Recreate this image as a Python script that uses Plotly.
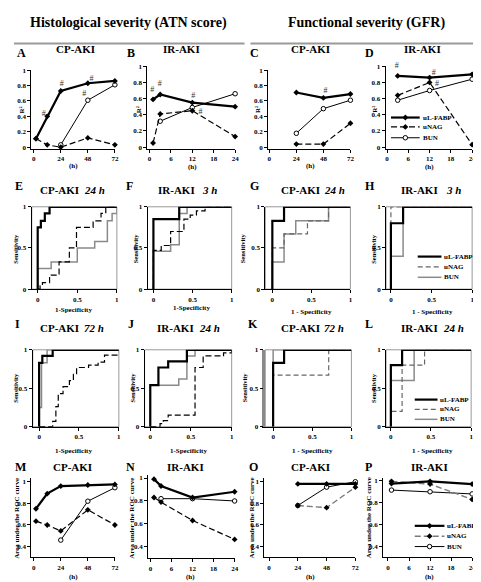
import plotly.graph_objects as go

W, H = 481, 582
SERIF = "Liberation Serif"

# ---------------- data ----------------
CP_T = [2, 12, 24, 48, 72]
IR_T = [1, 3, 12, 24]
CP_BUN_T = [24, 48, 72]
IR_BUN_T = [3, 12, 24]
CP_GFR_T = [24, 48, 72]
IR_GFR_T = [3, 12, 24]
P_T = [1, 12, 24]

A_FABP = [0.11, 0.40, 0.73, 0.83, 0.86]
A_NAG = [0.11, 0.03, 0.00, 0.12, 0.03]
A_BUN = [0.03, 0.61, 0.81]
B_FABP = [0.59, 0.65, 0.55, 0.50]
B_NAG = [0.05, 0.41, 0.45, 0.13]
B_BUN = [0.32, 0.49, 0.66]
C_FABP = [0.71, 0.64, 0.69]
C_NAG = [0.04, 0.04, 0.31]
C_BUN = [0.18, 0.50, 0.61]
D_FABP = [0.88, 0.86, 0.90]
D_NAG = [0.64, 0.80, 0.03]
D_BUN = [0.58, 0.70, 0.84]

M_FABP = [0.75, 0.89, 0.96, 0.97, 0.975]
M_NAG = [0.635, 0.60, 0.545, 0.74, 0.60]
M_BUN = [0.46, 0.82, 0.945]
N_FABP = [0.99, 0.93, 0.83, 0.88]
N_NAG = [0.83, 0.79, 0.63, 0.465]
N_BUN = [0.82, 0.82, 0.80]
O_FABP = [0.98, 0.98, 0.98]
O_NAG = [0.78, 0.76, 0.95]
O_BUN = [0.78, 0.95, 1.0]
P_FABP = [0.975, 0.995, 0.97]
P_NAG = [0.995, 0.97, 0.83]
P_BUN = [0.915, 0.90, 0.88]

# ROC curves (1-specificity, sensitivity)
E_FABP_FPR = [0, 0, 0.04, 0.09, 0.15, 1]
E_FABP_TPR = [0, 0.75, 0.83, 0.92, 1, 1]
E_NAG_FPR = [0, 0.03, 0.06, 0.15, 0.27, 0.40, 0.49, 0.70, 0.80, 0.86, 1]
E_NAG_TPR = [0, 0.04, 0.08, 0.17, 0.33, 0.5, 0.75, 0.83, 0.92, 1, 1]
E_BUN_FPR = [0, 0, 0.17, 0.5, 0.72, 0.88, 0.94, 1]
E_BUN_TPR = [0, 0.25, 0.33, 0.5, 0.58, 0.83, 0.92, 1]

F_FABP_FPR = [0, 0, 0.33, 1]
F_FABP_TPR = [0, 0.85, 1, 1]
F_NAG_FPR = [0, 0, 0.1, 0.22, 0.39, 0.47, 0.55, 0.66, 1]
F_NAG_TPR = [0, 0.47, 0.53, 0.7, 0.85, 0.9, 0.95, 1, 1]
F_BUN_FPR = [0, 0, 0.22, 0.33, 0.43, 1]
F_BUN_TPR = [0, 0.46, 0.54, 0.92, 1, 1]

G_FABP_FPR = [0, 0, 0.15, 1]
G_FABP_TPR = [0, 0.83, 1, 1]
G_NAG_FPR = [0, 0, 0.15, 0.45, 0.72, 1]
G_NAG_TPR = [0, 0.5, 0.67, 0.83, 1, 1]
G_BUN_FPR = [0, 0, 0.15, 0.3, 0.72, 1]
G_BUN_TPR = [0, 0.33, 0.67, 0.83, 1, 1]

H_FABP_FPR = [0, 0, 0.15, 1]
H_FABP_TPR = [0, 0.8, 1, 1]
H_NAG_FPR = [0, 0, 1]
H_NAG_TPR = [0, 1, 1]
H_BUN_FPR = [0, 0, 0.15, 1]
H_BUN_TPR = [0, 0.4, 1, 1]

I_FABP_FPR = [0, 0, 0.04, 0.17, 1]
I_FABP_TPR = [0, 0.83, 0.92, 1, 1]
I_NAG_FPR = [0, 0.17, 0.21, 0.24, 0.30, 0.38, 0.43, 0.47, 0.62, 0.74, 0.82, 1]
I_NAG_TPR = [0, 0.07, 0.26, 0.43, 0.52, 0.6, 0.68, 0.77, 0.8, 0.84, 0.93, 0.93]
I_BUN_FPR = [0, 0, 0.03, 0.1, 1]
I_BUN_TPR = [0, 0.25, 0.83, 1, 1]

J_FABP_FPR = [0, 0, 0.1, 0.22, 0.45, 1]
J_FABP_TPR = [0, 0.54, 0.77, 0.85, 1, 1]
J_NAG_FPR = [0, 0.12, 0.16, 0.22, 0.55, 0.65, 0.9, 1]
J_NAG_TPR = [0, 0.04, 0.08, 0.15, 0.77, 0.92, 0.96, 1]
J_BUN_FPR = [0, 0, 0.35, 0.45, 0.55, 1]
J_BUN_TPR = [0, 0.54, 0.62, 0.92, 1, 1]

K_FABP_FPR = [0, 0, 0.14, 1]
K_FABP_TPR = [0, 0.83, 1, 1]
K_NAG_FPR = [0, 0, 0.71, 1]
K_NAG_TPR = [0, 0.67, 1, 1]
K_BUN_FPR = [0, 0, 1]
K_BUN_TPR = [0, 1, 1]

L_FABP_FPR = [0, 0, 0.14, 1]
L_FABP_TPR = [0, 0.8, 1, 1]
L_NAG_FPR = [0, 0, 0.14, 0.42, 1]
L_NAG_TPR = [0, 0.2, 0.8, 1, 1]
L_BUN_FPR = [0, 0, 0.29, 1]
L_BUN_TPR = [0, 0.6, 1, 1]

# significance marks (#) placed next to points
A_HASH_X = [8.8, 24.9, 51.2, 72.3, 44.8, 75.5]
A_HASH_Y = [0.43, 0.82, 0.88, 0.97, 0.69, 0.73]
B_HASH_X = [0.8, 2.9, 12.3, 24.6, 25.5, 14.3]
B_HASH_Y = [0.70, 0.78, 0.63, 0.78, 0.55, 0.43]
C_HASH_X = [23.1, 50, 75.8]
C_HASH_Y = [1.05, 0.73, 0.97]
D_HASH_X = [2.7, 13.2, 14.1, 24.4, 25.5]
D_HASH_Y = [1.0, 0.92, 0.78, 1.0, 0.78]

SERIES = ["uL-FABP", "uNAG", "BUN"]
HOUR_TICKS_CP = [0, 24, 48, 72]
HOUR_TICKS_IR = [0, 6, 12, 18, 24]

# ---------------- layout helpers ----------------
def fx(x):
    return x / W

def fy(y):
    return 1 - y / H

layout = dict(width=W, height=H, autosize=False, margin=dict(l=0, r=0, t=0, b=0),
              paper_bgcolor="white", plot_bgcolor="rgba(0,0,0,0)", showlegend=False,
              font=dict(family=SERIF, size=7, color="black"))
annotations = []
shapes = []
fig = go.Figure()

TICKFONT = dict(family=SERIF, size=7, color="black", weight="bold")

# panel: name -> (idx, xpx, ypx, xrange, yrange, xticks, yticks, kind)
PANELS = {
    "A": (1, (22.7, 107), (59, 138.6), [-2, 72], [-0.02, 1], HOUR_TICKS_CP, [0, 0.2, 0.4, 0.6, 0.8, 1], "r2"),
    "B": (2, (139.8, 228.5), (55, 138.6), [-0.6, 24], [-0.02, 1], HOUR_TICKS_IR, [0, 0.2, 0.4, 0.6, 0.8, 1], "r2"),
    "C": (3, (261.9, 345), (59, 138.6), [-1, 72], [-0.02, 1], HOUR_TICKS_CP, [0, 0.2, 0.4, 0.6, 0.8, 1], "r2"),
    "D": (4, (380.6, 468), (55, 138.6), [-0.4, 24], [-0.02, 1], HOUR_TICKS_IR, [0, 0.2, 0.4, 0.6, 0.8, 1], "r2"),
    "E": (5, (23, 109), (197.5, 281), [-0.075, 1], [0, 1], [0, 0.5, 1], [0, 0.5, 1], "roc"),
    "F": (6, (140, 225), (197.5, 281), [-0.075, 1], [0, 1], [0, 0.5, 1], [0, 0.5, 1], "roc"),
    "G": (7, (259, 345), (197.5, 281), [-0.09, 1], [0, 1], [0, 0.5, 1], [0, 0.5, 1], "roc"),
    "H": (8, (381, 468), (197.5, 281), [-0.06, 1], [0, 1], [0, 0.5, 1], [0, 0.5, 1], "roc"),
    "I": (9, (24, 111), (342.5, 420.5), [-0.08, 1], [0, 1], [0, 0.5, 1], [0, 0.5, 1], "roc"),
    "J": (10, (137, 225), (342.5, 420.5), [-0.07, 1], [0, 1], [0, 0.5, 1], [0, 0.5, 1], "roc"),
    "K": (11, (259, 346), (342.5, 420.5), [-0.1, 1], [0, 1], [0, 0.5, 1], [0, 0.5, 1], "roc"),
    "L": (12, (381, 467), (342.5, 420.5), [-0.06, 1], [0, 1], [0, 0.5, 1], [0, 0.5, 1], "roc"),
    "M": (13, (22.7, 107), (473, 553), [-2, 72], [0.3, 1.03], HOUR_TICKS_CP, [0.4, 0.6, 0.8, 1], "auc"),
    "N": (14, (140.5, 228), (469, 554), [-0.7, 24], [0.3, 1.03], HOUR_TICKS_IR, [0.4, 0.6, 0.8, 1], "auc"),
    "O": (15, (258, 350), (473, 553), [-4, 72], [0.3, 1.03], HOUR_TICKS_CP, [0.4, 0.6, 0.8, 1], "auc"),
    "P": (16, (378, 468), (472, 553), [-1.4, 24], [0.3, 1.03], HOUR_TICKS_IR, [0.4, 0.6, 0.8, 1], "auc"),
}

def axnames(idx):
    s = "" if idx == 1 else str(idx)
    return "xaxis" + s, "yaxis" + s, "x" + s, "y" + s

for name, (idx, xp, yp, xr, yr, xt, yt, kind) in PANELS.items():
    xa, ya, _, _ = axnames(idx)
    common = dict(showgrid=False, zeroline=False, showline=True, linecolor="black", linewidth=1,
                  ticks="outside", ticklen=3, tickwidth=1, tickcolor="black", tickfont=TICKFONT,
                  fixedrange=True)
    xanchor = "y" if idx == 1 else "y" + str(idx)
    yanchor = "x" if idx == 1 else "x" + str(idx)
    layout[xa] = dict(common, domain=[fx(xp[0]), fx(xp[1])], range=xr, tickvals=xt, anchor=xanchor)
    layout[ya] = dict(common, domain=[fy(yp[1]), fy(yp[0])], range=yr, tickvals=yt, anchor=yanchor)
    if kind == "roc":
        shapes.append(dict(type="rect", xref="paper", yref="paper", x0=fx(xp[0]), x1=fx(xp[1]),
                           y0=fy(yp[1]), y1=fy(yp[0]), line=dict(color="#9a9a9a", width=1), layer="below"))
        if name == "K":
            layout[ya]["linecolor"] = "#8a8a8a"
            layout[ya]["linewidth"] = 2.5

def xy(name):
    idx = PANELS[name][0]
    _, _, xr, yr = axnames(idx)
    return dict(xaxis=xr, yaxis=yr)

FABP_LINE = dict(color="black", width=2.2)
NAG_LINE = dict(color="black", width=1.2, dash="6px,3px")
NAG_LINE_GRAY = dict(color="#7a7a7a", width=1.4, dash="6px,3px")
BUN_LINE = dict(color="black", width=1)
DIAMOND = dict(symbol="diamond", size=4.5, color="black")
OPEN = dict(symbol="circle", size=4.5, color="white", line=dict(color="black", width=1))

def time_series(name, t_fabp, fabp, t_nag, nag, t_bun, bun, nag_line=NAG_LINE):
    fig.add_trace(go.Scatter(x=t_bun, y=bun, mode="lines+markers", line=BUN_LINE, marker=OPEN,
                             cliponaxis=False, **xy(name)))
    fig.add_trace(go.Scatter(x=t_nag, y=nag, mode="lines+markers", line=nag_line, marker=DIAMOND,
                             cliponaxis=False, **xy(name)))
    fig.add_trace(go.Scatter(x=t_fabp, y=fabp, mode="lines+markers", line=FABP_LINE, marker=DIAMOND,
                             cliponaxis=False, **xy(name)))

time_series("A", CP_T, A_FABP, CP_T, A_NAG, CP_BUN_T, A_BUN)
time_series("B", IR_T, B_FABP, IR_T, B_NAG, IR_BUN_T, B_BUN)
time_series("C", CP_GFR_T, C_FABP, CP_GFR_T, C_NAG, CP_GFR_T, C_BUN)
time_series("D", IR_GFR_T, D_FABP, IR_GFR_T, D_NAG, IR_GFR_T, D_BUN)
time_series("M", CP_T, M_FABP, CP_T, M_NAG, CP_BUN_T, M_BUN)
time_series("N", IR_T, N_FABP, IR_T, N_NAG, IR_BUN_T, N_BUN)
time_series("O", CP_GFR_T, O_FABP, CP_GFR_T, O_NAG, CP_GFR_T, O_BUN, NAG_LINE_GRAY)
time_series("P", P_T, P_FABP, P_T, P_NAG, P_T, P_BUN, NAG_LINE_GRAY)

for name, hx, hy in [("A", A_HASH_X, A_HASH_Y), ("B", B_HASH_X, B_HASH_Y),
                     ("C", C_HASH_X, C_HASH_Y), ("D", D_HASH_X, D_HASH_Y)]:
    fig.add_trace(go.Scatter(x=hx, y=hy, mode="text", text=["#"] * len(hx), cliponaxis=False,
                             textfont=dict(family=SERIF, size=8, color="#333333"), **xy(name)))

ROC_FABP = dict(color="black", width=2.2)
ROC_NAG = dict(color="black", width=1.2, dash="6px,3px")
ROC_NAG_GRAY = dict(color="#666", width=1.2, dash="5px,3px")
ROC_BUN = dict(color="#8a8a8a", width=1.5)

def roc(name, fabp, nag, bun, nag_line=ROC_NAG):
    fig.add_trace(go.Scatter(x=bun[0], y=bun[1], mode="lines", line=dict(ROC_BUN, shape="hv"),
                             cliponaxis=False, **xy(name)))
    fig.add_trace(go.Scatter(x=nag[0], y=nag[1], mode="lines", line=dict(nag_line, shape="hv"),
                             cliponaxis=False, **xy(name)))
    fig.add_trace(go.Scatter(x=fabp[0], y=fabp[1], mode="lines", line=dict(ROC_FABP, shape="hv"),
                             cliponaxis=False, **xy(name)))

roc("E", (E_FABP_FPR, E_FABP_TPR), (E_NAG_FPR, E_NAG_TPR), (E_BUN_FPR, E_BUN_TPR))
roc("F", (F_FABP_FPR, F_FABP_TPR), (F_NAG_FPR, F_NAG_TPR), (F_BUN_FPR, F_BUN_TPR))
roc("G", (G_FABP_FPR, G_FABP_TPR), (G_NAG_FPR, G_NAG_TPR), (G_BUN_FPR, G_BUN_TPR), ROC_NAG_GRAY)
roc("H", (H_FABP_FPR, H_FABP_TPR), (H_NAG_FPR, H_NAG_TPR), (H_BUN_FPR, H_BUN_TPR), ROC_NAG_GRAY)
roc("I", (I_FABP_FPR, I_FABP_TPR), (I_NAG_FPR, I_NAG_TPR), (I_BUN_FPR, I_BUN_TPR))
roc("J", (J_FABP_FPR, J_FABP_TPR), (J_NAG_FPR, J_NAG_TPR), (J_BUN_FPR, J_BUN_TPR))
roc("K", (K_FABP_FPR, K_FABP_TPR), (K_NAG_FPR, K_NAG_TPR), (K_BUN_FPR, K_BUN_TPR), ROC_NAG_GRAY)
roc("L", (L_FABP_FPR, L_FABP_TPR), (L_NAG_FPR, L_NAG_TPR), (L_BUN_FPR, L_BUN_TPR), ROC_NAG_GRAY)

# ---------------- overlay axis in pixel units for legends ----------------
layout["xaxis17"] = dict(domain=[0, 1], range=[0, W], visible=False, fixedrange=True, anchor="y17")
layout["yaxis17"] = dict(domain=[0, 1], range=[H, 0], visible=False, fixedrange=True, anchor="x17")
OV = dict(xaxis="x17", yaxis="y17")

# ---------------- texts ----------------
def txt(s, x, y, size=7, angle=0, anchor="center", style="normal"):
    annotations.append(dict(text=s, x=fx(x), y=fy(y), xref="paper", borderpad=0,
                            yref="paper", xanchor=anchor, yanchor="middle", showarrow=False,
                            textangle=angle,
                            font=dict(family=SERIF, size=size, color="black", weight="bold", style=style)))

# legend placement: (line x0, line x1, text x, [row y], with markers, nag style)
LEGENDS = [
    (386, 415, 417, [107, 116.5, 127.5], True, NAG_LINE),
    (413, 437, 439, [248, 258.5, 269], False, ROC_NAG_GRAY),
    (410, 433, 435, [393, 403, 413], False, ROC_NAG_GRAY),
    (410, 440, 442, [521, 531.5, 542], True, NAG_LINE_GRAY),
]
for (l0, l1, tx, ys, mk, nagl) in LEGENDS:
    styles = [FABP_LINE, nagl, BUN_LINE if mk else ROC_BUN]
    marks = [DIAMOND, DIAMOND, OPEN]
    for lab, yy, st, mm in zip(SERIES, ys, styles, marks):
        fig.add_trace(go.Scatter(x=[l0, l1], y=[yy, yy], mode="lines", line=st, cliponaxis=False, **OV))
        if mk:
            fig.add_trace(go.Scatter(x=[(l0 + l1) / 2], y=[yy], mode="markers", marker=mm,
                                     cliponaxis=False, **OV))
        txt(lab, tx, yy, size=7, anchor="left")

txt("Histological severity (ATN score)", 121, 11, size=14)
txt("Functional severity (GFR)", 361, 11, size=14)
shapes.append(dict(type="line", xref="paper", yref="paper", x0=fx(5), x1=fx(238), y0=fy(32), y1=fy(32),
                   line=dict(color="#9a9a9a", width=2)))
shapes.append(dict(type="line", xref="paper", yref="paper", x0=fx(244), x1=fx(479), y0=fy(32), y1=fy(32),
                   line=dict(color="#9a9a9a", width=2)))

LETTERS = [("A", 13, 42), ("B", 123, 42), ("C", 248, 42), ("D", 364, 42),
           ("E", 10, 176), ("F", 122, 176), ("G", 248, 176), ("H", 365, 176),
           ("I", 9, 316), ("J", 123, 316), ("K", 247, 316), ("L", 364, 316),
           ("M", 12, 461), ("N", 123, 461), ("O", 247, 461), ("P", 363, 461)]
for s, x, y in LETTERS:
    txt(s, x, y, size=12)

TITLES = [("CP-AKI", 67, 38), ("IR-AKI", 174, 38), ("CP-AKI", 305, 38), ("IR-AKI", 418, 38),
          ("CP-AKI", 64, 461), ("IR-AKI", 178, 461), ("CP-AKI", 305, 461), ("IR-AKI", 425, 461)]
for s, x, y in TITLES:
    txt(s, x, y, size=11)

# ROC titles: upright group name + italic time point (split at x)
ROC_TITLES = [("CP-AKI", "24 h", 72, 180, 2.5), ("IR-AKI", "3 h", 189, 180, 5.5),
              ("CP-AKI", "24 h", 315, 180, 2.5), ("IR-AKI", "3 h", 435, 180, 5.5),
              ("CP-AKI", "72 h", 72, 320, 2.5), ("IR-AKI", "24 h", 188, 320, 2.5),
              ("CP-AKI", "72 h", 315, 320, 2.5), ("IR-AKI", "24 h", 435, 320, 2.5)]
for a, b, xs, y, gap in ROC_TITLES:
    txt(a, xs, y, size=11, anchor="right")
    txt(b, xs + gap, y, size=11, anchor="left", style="italic")

# axis titles
for x in (13, 131, 251, 369):
    txt("R²", x, 99, size=7, angle=-90)
for x, y in ((65, 156), (185, 157), (305, 156), (425, 157)):
    txt("(h)", x, y, size=7)
for x, y in ((7, 240), (128, 240), (236, 240), (369, 240), (7, 381), (125, 381), (238, 381), (369, 381)):
    txt("Sensitivity", x, y, size=6.5, angle=-90)
for x, y in ((65, 302), (184, 300)):
    txt("1-Specificity", x, y, size=7)
for x, y in ((306, 304), (428, 304)):
    txt("1 - Specificity", x, y, size=7)
for x, y in ((65, 445), (181, 445)):
    txt("1-Specificity", x, y, size=7)
for x, y in ((307, 445), (428, 445)):
    txt("1 - Specificity", x, y, size=7)
for x in (8, 124, 245, 364):
    txt("Area under the ROC curve", x, 513, size=7, angle=-90)
for x, y in ((65, 573), (183, 573), (305, 573), (425, 573)):
    txt("(h)", x, y, size=7)

layout["annotations"] = annotations
layout["shapes"] = shapes
fig.update_layout(**layout)
fig.write_html("out.html")
